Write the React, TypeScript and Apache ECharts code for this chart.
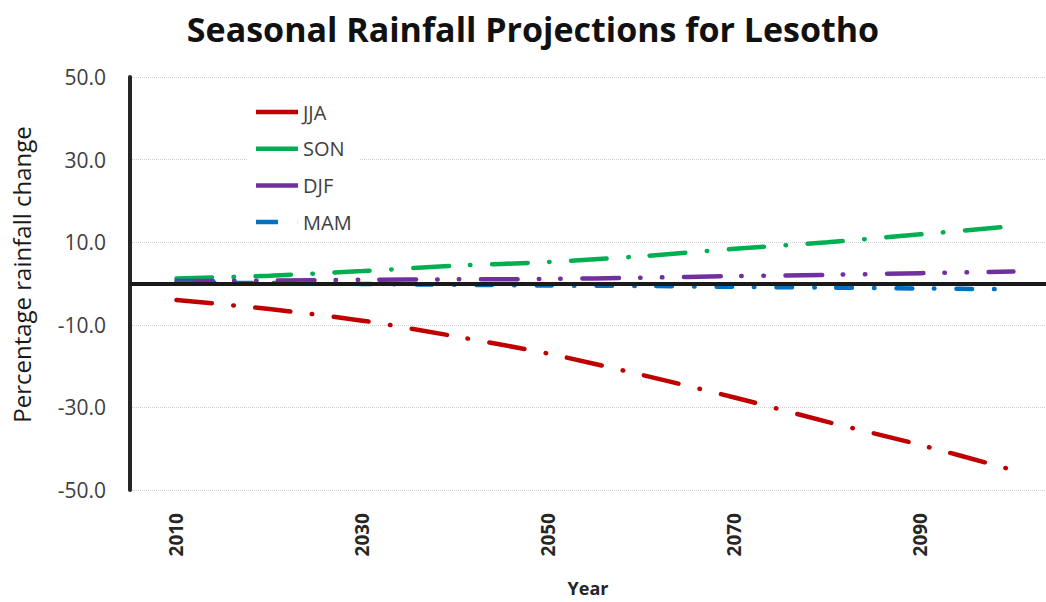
import React, { useEffect, useRef } from "react";
import * as echarts from "echarts";

const years = [2010, 2020, 2030, 2040, 2050, 2060, 2070, 2080, 2090, 2100];
const jja = [-4.0, -6.2, -9.0, -12.8, -17.0, -22.1, -27.6, -33.5, -39.1, -45.2];
const son = [1.2, 1.9, 3.0, 4.3, 5.2, 6.6, 8.4, 10.0, 11.9, 13.9];
const djf = [0.6, 0.7, 0.9, 1.0, 1.1, 1.4, 1.8, 2.1, 2.5, 2.9];
const mam = [0.2, 0.1, -0.1, -0.3, -0.5, -0.6, -0.8, -1.0, -1.2, -1.4];
const xTickLabels = [2010, 2030, 2050, 2070, 2090];
const seriesNames = ["JJA", "SON", "DJF", "MAM"];

const FONT = "'Open Sans', Lato, sans-serif";

export default function App() {
  const ref = useRef<HTMLDivElement>(null);
  useEffect(() => {
    if (!ref.current) return;
    const chart = echarts.init(ref.current, undefined, { renderer: "svg" });
    const pair = (vals: number[]) => years.map((y, i) => [y, vals[i]]);
    const mk = (name: string, vals: number[], color: string, dash: number[], extra: any = {}) => ({
      name,
      type: "line",
      data: pair(vals),
      color,
      showSymbol: false,
      symbol: "none",
      smooth: 0.3,
      lineStyle: { color, width: 4.5, type: dash, cap: "round" },
      ...extra,
    });
    chart.setOption({
      animation: false,
      textStyle: { fontFamily: FONT },
      title: {
        text: "Seasonal Rainfall Projections for Lesotho",
        left: 528,
        textAlign: "center",
        top: 7,
        textStyle: { fontFamily: FONT, fontSize: 34, fontWeight: "bold", color: "#111" },
      },
      legend: {
        orient: "vertical",
        left: 248,
        top: 94,
        padding: [8, 8, 8, 8],
        backgroundColor: "#fff",
        itemWidth: 42,
        itemHeight: 4.5,
        itemGap: 16.7,
        itemStyle: { borderWidth: 0 },
        lineStyle: { width: 0 },
        textStyle: { fontFamily: FONT, fontSize: 20, color: "#404040", lineHeight: 20 },
        data: [
          { name: "JJA", icon: "rect" },
          { name: "SON", icon: "rect" },
          { name: "DJF", icon: "rect" },
          { name: "MAM", icon: "path://M0,0H22V4.5H0Z M41.9,0H42V4.5H41.9Z" },
        ],
      },
      grid: { left: 130, right: 0, top: 77, bottom: 104, containLabel: false },
      xAxis: {
        type: "value",
        min: 2005,
        max: 2103.5,
        name: "Year",
        nameLocation: "middle",
        nameGap: 89,
        nameTextStyle: { fontFamily: FONT, fontSize: 18, fontWeight: "bold", color: "#262626" },
        axisLine: { show: false },
        axisTick: { show: false },
        splitLine: { show: false },
        axisLabel: {
          customValues: xTickLabels,
          rotate: 90,
          margin: 23,
          fontFamily: FONT,
          fontSize: 19,
          fontWeight: "bold",
          color: "#262626",
          formatter: (v: number) => String(v),
        },
      },
      yAxis: {
        type: "value",
        min: -50,
        max: 50,
        interval: 20,
        name: "Percentage rainfall change",
        nameLocation: "middle",
        nameRotate: 90,
        nameGap: 97,
        nameTextStyle: { fontFamily: FONT, fontSize: 24, color: "#1a1a1a", padding: [0, 0, 0, 18] },
        axisLine: { show: true, lineStyle: { color: "#262626", width: 4 } },
        axisTick: { show: false },
        splitLine: { show: true, lineStyle: { color: "#d0d0d0", width: 1, type: "dotted" } },
        axisLabel: {
          margin: 24,
          fontFamily: FONT,
          fontSize: 21,
          color: "#404040",
          formatter: (v: number) => v.toFixed(1),
        },
      },
      series: [
        mk(seriesNames[0], jja, "#C00000", [35.5, 21.5, 0.5, 21.5], {
          markLine: {
            silent: true,
            symbol: ["none", "none"],
            label: { show: false },
            lineStyle: { color: "#1a1a1a", width: 4, type: "solid" },
            data: [{ yAxis: 0 }],
          },
        }),
        mk(seriesNames[1], son, "#00B050", [35.5, 21.5, 0.5, 21.5]),
        mk(seriesNames[2], djf, "#7030A0", [36.5, 21, 0.5, 21.5, 0.5, 21.5]),
        mk(seriesNames[3], mam, "#0070C0", [15.5, 22, 0.5, 22]),
      ],
    });
    return () => chart.dispose();
  }, []);
  return (
    <div
      ref={ref}
      style={{ position: "absolute", left: 0, top: 0, width: 1046, height: 602, background: "#fff" }}
    />
  );
}
